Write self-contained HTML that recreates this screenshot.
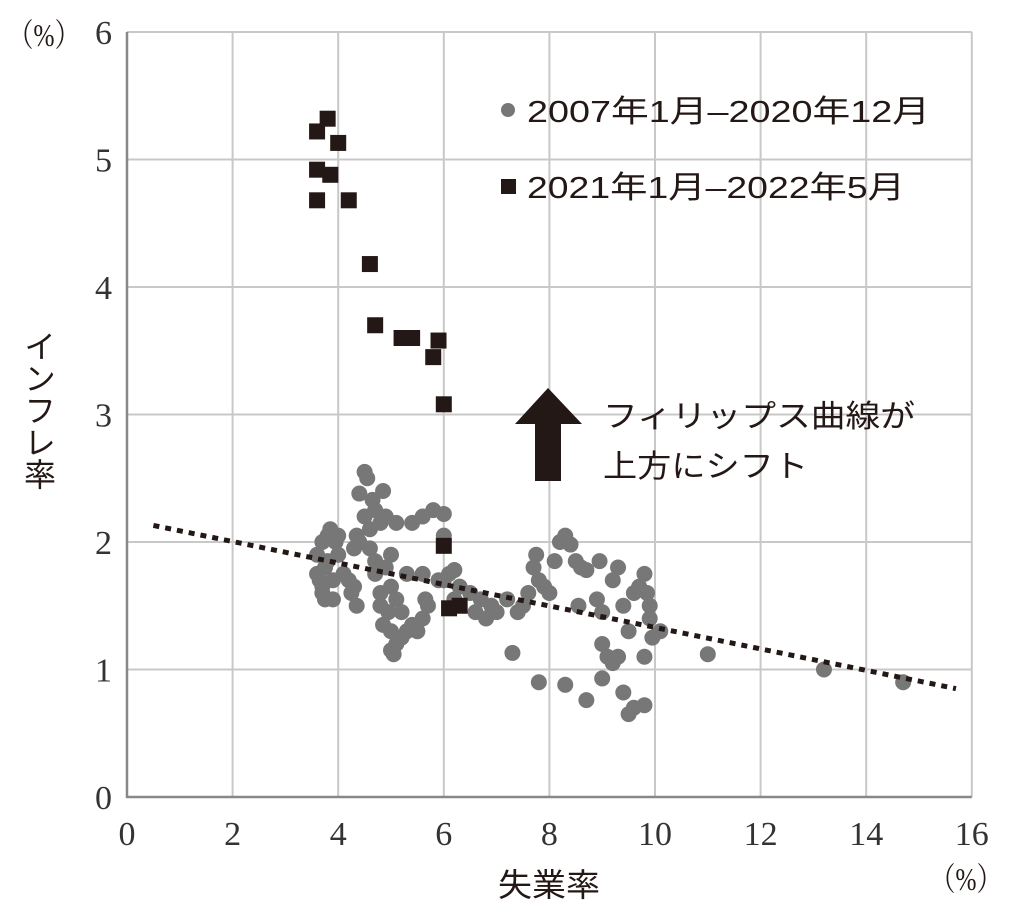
<!DOCTYPE html>
<html><head><meta charset="utf-8"><style>
html,body{margin:0;padding:0;background:#fff;width:1024px;height:910px;overflow:hidden}
svg text{font-family:"Liberation Serif","Noto Serif CJK SC",serif}
svg text.j{font-family:"Liberation Sans","Noto Sans CJK JP",sans-serif}
</style></head><body>
<svg id="c" width="1024" height="910" xmlns="http://www.w3.org/2000/svg"></svg>
<script>
const xTicks=[0,2,4,6,8,10,12,14,16];
const yTicks=[0,1,2,3,4,5,6];
const grayX=[3.6,3.6,3.65,3.7,3.7,3.75,3.8,3.85,3.8,3.9,3.9,3.95,4.0,4.0,3.75,3.7,4.1,4.2,4.25,4.3,4.35,4.3,4.35,4.4,4.5,4.55,4.4,4.65,4.5,4.7,4.85,4.6,4.8,4.9,5.1,5.4,5.6,5.8,6.0,6.0,4.6,4.7,4.7,4.8,4.8,4.85,4.95,5.0,5.0,5.05,5.1,5.2,5.3,5.4,5.5,5.6,5.7,5.65,5.2,5.1,5.0,4.9,5.0,5.3,5.6,5.9,6.0,6.1,6.2,6.3,6.2,6.5,6.6,6.7,6.8,6.9,7.0,7.2,7.4,7.5,7.3,7.6,7.7,7.75,7.8,7.9,8.0,8.1,8.2,8.3,8.4,8.5,8.6,8.7,8.55,7.8,8.3,8.7,8.9,9.0,9.0,9.1,9.2,9.3,9.4,9.5,9.6,9.7,9.8,9.85,9.9,9.9,9.95,10.1,9.8,9.2,9.3,8.95,9.0,9.4,9.5,9.6,9.8,11.0,13.2,14.7];
const grayY=[1.9,1.75,1.7,1.6,1.65,1.8,2.05,2.1,1.85,1.7,1.55,2.0,2.05,1.9,1.55,2.0,1.75,1.7,1.6,1.65,1.5,1.95,2.05,2.0,2.55,2.5,2.38,2.33,2.2,2.25,2.4,2.1,2.15,2.2,2.15,2.15,2.2,2.25,2.22,2.05,1.95,1.85,1.75,1.6,1.5,1.35,1.45,1.3,1.15,1.12,1.2,1.25,1.3,1.35,1.3,1.4,1.5,1.55,1.45,1.55,1.65,1.8,1.9,1.75,1.75,1.7,1.7,1.75,1.78,1.65,1.55,1.6,1.45,1.55,1.4,1.5,1.45,1.55,1.45,1.5,1.13,1.6,1.8,1.9,1.7,1.65,1.6,1.85,2.0,2.05,1.98,1.85,1.8,1.78,1.5,0.9,0.88,0.76,1.55,1.45,1.2,1.1,1.05,1.1,1.5,1.3,1.6,1.65,1.75,1.6,1.5,1.4,1.25,1.3,1.1,1.7,1.8,1.85,0.93,0.82,0.65,0.7,0.72,1.12,1.0,0.9];
const sqX=[3.6,3.8,4.0,3.6,3.85,3.6,4.2,4.6,4.7,5.2,5.4,5.8,5.9,6.0,6.0,6.1,6.3];
const sqY=[5.22,5.32,5.13,4.92,4.88,4.68,4.68,4.18,3.7,3.6,3.6,3.45,3.58,3.08,1.97,1.48,1.5];
const trendX=[0.5,15.7];
const trendY=[2.13,0.85];
const X=v=>127+v*52.8, Y=v=>797-v*127.5;
const svg=document.getElementById('c');const NS='http://www.w3.org/2000/svg';
function mk(t,a,p){const e=document.createElementNS(NS,t);for(const k in a)e.setAttribute(k,a[k]);(p||svg).appendChild(e);return e;}
const grid=mk('g',{});


xTicks.forEach(t=>{mk('line',{x1:X(t),x2:X(t),y1:Y(0),y2:Y(6),stroke:'#c8c8c8','stroke-width':2},grid);
 const l=mk('text',{x:X(t),y:845,'text-anchor':'middle','font-size':34,fill:'#333'});l.textContent=t;
 
 });
yTicks.forEach(t=>{mk('line',{x1:X(0),x2:X(16),y1:Y(t),y2:Y(t),stroke:'#c8c8c8','stroke-width':2},grid);
 const l=mk('text',{x:112,y:Y(t)+12,'text-anchor':'end','font-size':34,fill:'#333'});l.textContent=t;
 
 });
const ax=mk('path',{d:`M${X(0)} ${Y(6)}V${Y(0)}H${X(16)}`,stroke:'#888','stroke-width':2.5,fill:'none'});


grayX.forEach((v,i)=>{const c=mk('circle',{cx:X(v),cy:Y(grayY[i]),r:8,fill:'#777'});
 
 });
const tl=mk('line',{x1:X(trendX[0]),y1:Y(trendY[0]),x2:X(trendX[1]),y2:Y(trendY[1]),stroke:'#231815','stroke-width':5,'stroke-dasharray':'6 6'});


sqX.forEach((v,i)=>{const r=mk('rect',{x:X(v)-8,y:Y(sqY[i])-8,width:16,height:16,fill:'#231815'});
 
 });
function txt(s,x,y,size,name,cls,len){const t=mk('text',{x:x,y:y,'font-size':size,fill:'#231815'});if(cls)t.setAttribute('class',cls);if(len){t.setAttribute('textLength',len);t.setAttribute('lengthAdjust','spacingAndGlyphs');}t.textContent=s;
 
 return t;}
txt('（%）',8,46,32,'y-unit','',72);
txt('（%）',930,890,32,'x-unit','',72);
txt('失業率',498,896,32,'x-axis-title','j',102);
const yt=mk('text',{x:0,y:0,'font-size':32,fill:'#231815',class:'j',transform:'translate(38,330)',style:'writing-mode:vertical-rl'});yt.textContent='インフレ率';


const lc=mk('circle',{cx:508,cy:110,r:7,fill:'#777'});


txt('2007年1月–2020年12月',527,122,31,'legend-entry-2007-2020','j',403);
const ls=mk('rect',{x:501,y:179,width:15,height:15,fill:'#231815'});


txt('2021年1月–2022年5月',527,198,31,'legend-entry-2021-2022','j',378);
const ar=mk('path',{d:'M548 388L582 424H561V481H535V424H515Z',fill:'#231815'});


txt('フィリップス曲線が',603,427,31,'annotation-line1','j',312);
txt('上方にシフト',603,477,31,'annotation-line2','j',205);
</script>
</body></html>
